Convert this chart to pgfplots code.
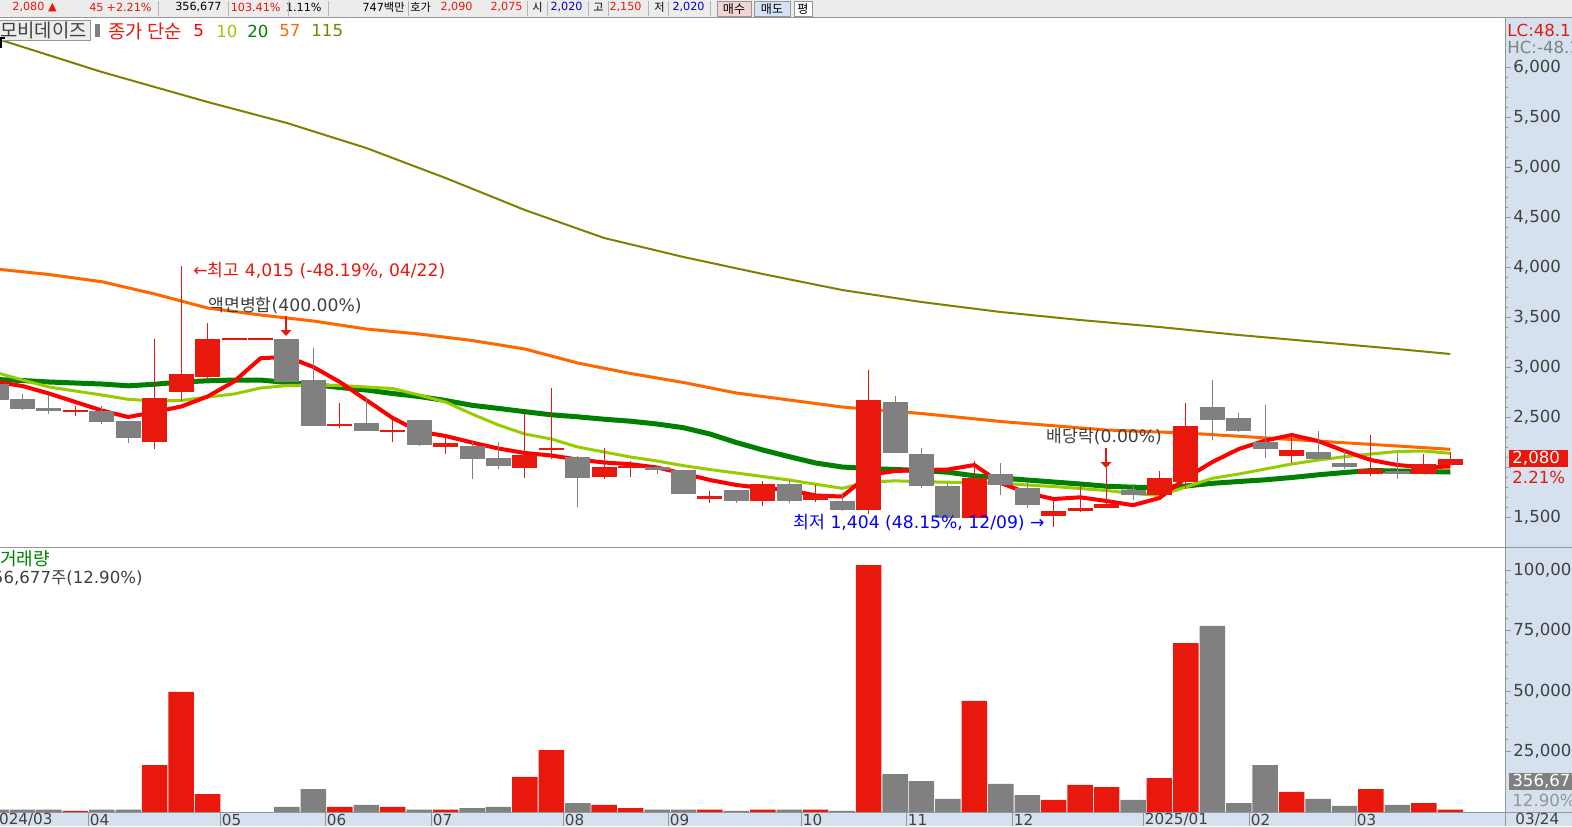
\documentclass[border=0pt]{standalone}
\usepackage{pgfplots}
\pgfplotsset{compat=1.18}
\usepackage{pgfplotstable}
\usepackage{fontspec}
\setmainfont{DejaVu Sans}
\newfontfamily\kr{Noto Sans CJK KR}
\usetikzlibrary{arrows.meta}
\newcommand\fs[1]{\fontsize{#1}{#1}\selectfont}

\definecolor{cup}{RGB}{232,24,12}
\definecolor{cdn}{RGB}{128,128,128}
\definecolor{maA}{RGB}{255,0,0}
\definecolor{maB}{RGB}{153,204,0}
\definecolor{maC}{RGB}{0,128,0}
\definecolor{maD}{RGB}{255,102,0}
\definecolor{maE}{RGB}{128,128,0}
\definecolor{panel}{RGB}{214,225,239}
\definecolor{axgray}{RGB}{150,150,150}
\definecolor{labgray}{RGB}{64,64,64}
\definecolor{barbg}{RGB}{236,236,236}
\definecolor{buyred}{RGB}{244,212,208}
\definecolor{sellblue}{RGB}{212,226,244}
\definecolor{annblue}{RGB}{0,0,255}

% weekly candles, rising weeks: index open high low close volume
\pgfplotstableread{
i o h l c v
3 2555 2613 2513 2570 500
6 2253 3280 2177 2690 19400
7 2753 4015 2657 2930 49600
8 2903 3437 2880 3280 7400
9 3280 3280 3280 3280 0
10 3280 3280 3280 3280 0
13 2417 2640 2390 2427 2100
15 2347 2470 2253 2370 2100
17 2205 2290 2130 2240 1000
20 1993 2543 1890 2117 14500
21 2175 2790 2080 2180 25600
23 1903 2190 1880 1998 2900
24 1995 2060 1903 2003 1650
27 1683 1760 1643 1710 1000
29 1663 1860 1613 1830 1000
31 1670 1820 1653 1720 1000
33 1573 2970 1533 2670 102000
37 1493 2060 1493 1890 45900
40 1513 1670 1404 1560 5000
41 1563 1810 1553 1593 11200
42 1593 1990 1587 1630 10300
44 1720 1960 1700 1890 14000
45 1850 2640 1780 2410 69800
49 2113 2320 2040 2170 8300
52 1933 2320 1910 1980 9500
54 1933 2130 1933 2030 3700
55 2020 2150 2020 2080 1000
}\up
% falling weeks
\pgfplotstableread{
i o h l c v
0 2827 2830 2670 2673 1000
1 2680 2730 2570 2583 1000
2 2590 2720 2530 2565 1000
4 2563 2610 2433 2453 1000
5 2460 2465 2243 2293 1000
11 3280 3280 2850 2850 2100
12 2870 3190 2413 2413 9500
14 2440 2687 2363 2365 2900
16 2470 2470 2210 2220 1000
18 2213 2253 1880 2080 1650
19 2093 2250 1980 2010 2100
22 2100 2110 1603 1893 3700
25 2000 2013 1933 1967 1000
26 1970 1975 1727 1733 1000
28 1770 1770 1643 1663 500
30 1830 1870 1643 1663 1000
32 1660 1737 1563 1573 500
34 2650 2710 2143 2143 15700
35 2130 2190 1790 1810 12800
36 1810 1840 1493 1493 5400
38 1930 2040 1720 1820 11600
39 1790 1850 1590 1620 7000
43 1770 1830 1670 1720 5000
46 2600 2870 2270 2470 76900
47 2490 2540 2350 2360 3700
48 2250 2620 2090 2180 19400
50 2150 2360 2083 2083 5400
51 2040 2160 1980 2003 2500
53 1953 2140 1880 1935 2900
}\down
% moving averages 5, 10, 20
\pgfplotstableread{
i m5 m10 m20
0 2850 2945 2875
1 2810 2870 2865
2 2735 2800 2850
3 2650 2760 2840
4 2565 2720 2830
5 2500 2677 2812
6 2550 2660 2828
7 2605 2665 2850
8 2705 2700 2862
9 2855 2730 2870
10 3087 2790 2870
11 3103 2815 2845
12 3000 2820 2825
13 2850 2815 2795
14 2670 2800 2770
15 2490 2785 2735
16 2355 2720 2705
17 2310 2650 2665
18 2245 2530 2617
19 2185 2420 2586
20 2140 2330 2553
21 2115 2280 2522
22 2075 2200 2502
23 2045 2150 2478
24 2028 2100 2458
25 1995 2060 2430
26 1935 2013 2393
27 1870 1975 2330
28 1820 1940 2245
29 1790 1905 2170
30 1770 1870 2103
31 1715 1828 2040
32 1705 1787 2000
33 1920 1850 1985
34 1960 1862 1975
35 1970 1853 1965
36 1975 1848 1948
37 2020 1843 1912
38 1840 1840 1890
39 1740 1820 1870
40 1680 1805 1850
41 1697 1785 1830
42 1660 1765 1808
43 1618 1735 1798
44 1690 1715 1795
45 1890 1800 1810
46 2050 1887 1837
47 2180 1930 1855
48 2265 1980 1872
49 2320 2030 1895
50 2260 2070 1922
51 2160 2103 1945
52 2070 2130 1965
53 2020 2155 1960
54 1997 2160 1955
55 2005 2137 1950
}\ma
% moving average 57
\pgfplotstableread{
i m
0 3980
2 3925
4 3853
6 3730
8 3590
10 3520
12 3460
14 3380
16 3330
18 3265
20 3180
22 3040
24 2935
26 2845
28 2740
30 2670
32 2600
35 2535
38 2455
42 2370
45 2340
49 2275
53 2210
55 2177
}\maM
% moving average 115
\pgfplotstableread{
i m
0 6285
4 5950
8 5650
11 5440
14 5190
17 4890
20 4570
23 4290
26 4100
29 3930
32 3770
35 3650
38 3550
41 3470
44 3400
47 3320
50 3250
53 3180
55 3130
}\maL

\pgfplotsset{
  wick/.style={draw=none, mark=none, forget plot,
    error bars/.cd, y dir=both, y explicit, error mark=none,
    error bar style={draw=#1, line width=0.5pt}},
  body/.style={draw=none, mark=none, forget plot,
    error bars/.cd, y dir=both, y explicit, error mark=none,
    error bar style={draw=#1, line width=12.5pt}},
  panelaxis/.style={scale only axis, width=752.5pt,
    xmin=0.1475, xmax=57.07,
    axis x line=none, axis y line*=right,
    y axis line style={draw=axgray, line width=0.5pt},
    tick style={draw=axgray, line width=0.5pt},
    tick align=outside, major tick length=3pt, minor tick length=1.6pt,
    minor y tick num=4,
    yticklabel style={font=\fs{8.3}, text=labgray, anchor=west, inner sep=1pt},
    /pgf/number format/assume math mode=true,
    /pgf/number format/1000 sep={,},
    /pgf/number format/fixed},
}

\begin{document}
\begin{tikzpicture}
\useasboundingbox (0,0) rectangle (786pt,-413pt);
\clip (0,0) rectangle (786pt,-413pt);
\begin{scope}[x=0.5pt,y=-0.5pt]
  \fill[white] (0,0) rectangle (1572,826);
  \fill[barbg] (0,0) rectangle (1572,17);
  \fill[panel] (1505,17) rectangle (1572,826);
  \fill[panel] (0,812) rectangle (1572,826);
\end{scope}

% price panel
\begin{axis}[panelaxis, at={(0pt,-9pt)}, anchor=north west,
  height=264.5pt, ymin=1200, ymax=6490,
  ytick={1500,2000,...,6000},
  yticklabels={1{,}500,{},2{,}500,3{,}000,3{,}500,4{,}000,4{,}500,5{,}000,5{,}500,6{,}000}]
\addplot[maE, line width=1pt] table[x=i,y=m]{\maL};
\addplot[maD, line width=1.5pt] table[x=i,y=m]{\maM};
\addplot[maC, line width=2.5pt] table[x=i,y=m20]{\ma};
\addplot[maB, line width=1.5pt] table[x=i,y=m10]{\ma};
\addplot[maA, line width=2pt] table[x=i,y=m5]{\ma};
\addplot[wick=cdn] table[x=i, y expr={(\thisrow{h}+\thisrow{l})/2},
  y error expr={(\thisrow{h}-\thisrow{l})/2}]{\down};
\addplot[body=cdn] table[x=i, y expr={(\thisrow{o}+\thisrow{c})/2},
  y error expr={max(abs(\thisrow{o}-\thisrow{c})/2,12)}]{\down};
\addplot[wick=cup] table[x=i, y expr={(\thisrow{h}+\thisrow{l})/2},
  y error expr={(\thisrow{h}-\thisrow{l})/2}]{\up};
\addplot[body=cup] table[x=i, y expr={(\thisrow{o}+\thisrow{c})/2},
  y error expr={max(abs(\thisrow{o}-\thisrow{c})/2,12)}]{\up};
\end{axis}

% volume panel
\begin{axis}[panelaxis, at={(0pt,-274pt)}, anchor=north west,
  height=132pt, ymin=0, ymax=109085, scaled y ticks=false,
  ytick={25000,50000,75000,100000}]
\addplot[ybar, bar width=12.75pt, bar shift=0pt, fill=cup, draw=none] table[x=i,y=v]{\up};
\addplot[ybar, bar width=12.75pt, bar shift=0pt, fill=cdn, draw=none] table[x=i,y=v]{\down};
\end{axis}

\begin{scope}[x=0.5pt,y=-0.5pt]
  % frame lines
  \draw[axgray, line width=0.5pt] (0,17.5) -- (1572,17.5);
  \draw[axgray, line width=0.5pt] (0,547.5) -- (1572,547.5);
  \draw[axgray, line width=0.5pt] (0,812) -- (1572,812);
  \draw[axgray, line width=0.5pt] (1505.5,17) -- (1505.5,826);
  % toolbar
  \begin{scope}[every node/.style={inner sep=0, font=\fs{5.6}}]
  \node[anchor=west, text=cup] at (12,7) {2,080 ▲};
  \node[anchor=east, text=cup] at (104,7) {45};
  \node[anchor=east, text=cup] at (152,7) {+2.21\%};
  \node[anchor=east, text=black] at (222,7) {356,677};
  \node[anchor=east, text=cup] at (281,7) {103.41\%};
  \node[anchor=east, text=black] at (322,7) {1.11\%};
  \node[anchor=east, text=black] at (405,7) {747{\kr 백만}};
  \node[anchor=west, text=black] at (410,7) {\kr 호가};
  \node[anchor=east, text=cup] at (473,7) {2,090};
  \node[anchor=east, text=cup] at (523,7) {2,075};
  \node[anchor=west, text=black] at (532,7) {\kr 시};
  \node[anchor=east, text=annblue!80!black] at (583,7) {2,020};
  \node[anchor=west, text=black] at (593,7) {\kr 고};
  \node[anchor=east, text=cup] at (642,7) {2,150};
  \node[anchor=west, text=black] at (654,7) {\kr 저};
  \node[anchor=east, text=annblue!80!black] at (705,7) {2,020};
  \end{scope}
  \foreach \sx in {158,228,288,328,408,527,547,588,608,648,668,710} \draw[axgray!70] (\sx,1) -- (\sx,16);
  \filldraw[fill=buyred, draw=axgray] (717,1) rectangle (751,16);
  \filldraw[fill=sellblue, draw=axgray] (754,1) rectangle (790,16);
  \filldraw[fill=white, draw=axgray] (794,1) rectangle (812,16);
  \node[inner sep=0, font=\fs{6}\kr] at (734,8.5) {매수};
  \node[inner sep=0, font=\fs{6}\kr] at (772,8.5) {매도};
  \node[inner sep=0, font=\fs{6}\kr] at (803,8.5) {평};
  % legend line
  \filldraw[fill=barbg, draw=axgray] (-1,20) rectangle (90,40);
  \node[anchor=west, inner sep=0, font=\fs{9.4}\kr, text=labgray] at (0,30.5) {모비데이즈};
  \fill[cdn] (95,24) rectangle (100,37);
  \node[anchor=west, inner sep=0, font=\fs{9.4}\kr, text=cup] at (108,31) {종가 단순};
  \node[anchor=west, inner sep=0, font=\fs{8.3}, text=maA] at (193,31) {5};
  \node[anchor=west, inner sep=0, font=\fs{8.3}, text=maB] at (216,31) {10};
  \node[anchor=west, inner sep=0, font=\fs{8.3}, text=maC] at (247,31) {20};
  \node[anchor=west, inner sep=0, font=\fs{8.3}, text=maD] at (279,31) {57};
  \node[anchor=west, inner sep=0, font=\fs{8.3}, text=maE] at (311,31) {115};
  \draw[black, line width=0.6pt] (1,48) -- (1,38) -- (5,38);
  % annotations
  \node[anchor=west, inner sep=0, font=\fs{8.6}, text=cup] at (193,271) {←{\kr 최고} 4,015 (-48.19\%, 04/22)};
  \node[anchor=west, inner sep=0, font=\fs{8.6}, text=labgray] at (208,305) {{\kr 액면병합}(400.00\%)};
  \draw[cup, line width=0.6pt] (286,316) -- (286,330);
  \fill[cup] (280.5,330) -- (291.5,330) -- (286,336) -- cycle;
  \node[anchor=west, inner sep=0, font=\fs{8.6}, text=annblue] at (793,523) {{\kr 최저} 1,404 (48.15\%, 12/09) →};
  \node[anchor=west, inner sep=0, font=\fs{8.6}, text=labgray] at (1046,437) {{\kr 배당락}(0.00\%)};
  \draw[cup, line width=0.6pt] (1106,448) -- (1106,462);
  \fill[cup] (1100.5,462) -- (1111.5,462) -- (1106,468) -- cycle;
  % right panel labels
  \node[anchor=west, inner sep=0, font=\fs{8.3}, text=cup] at (1507,30) {LC:48.15\%};
  \node[anchor=west, inner sep=0, font=\fs{8.3}, text=cdn] at (1507,47) {HC:-48.19\%};
  \fill[cup] (1509,450) rectangle (1568,467);
  \node[anchor=west, inner sep=0, font=\fs{8.3}, text=white] at (1512,458.5) {2,080};
  \node[anchor=west, inner sep=0, font=\fs{8.3}, text=cup] at (1512,477) {2.21\%};
  \fill[cdn] (1509,773) rectangle (1572,790);
  \node[anchor=west, inner sep=0, font=\fs{8.3}, text=white] at (1512,781.5) {356,677};
  \node[anchor=west, inner sep=0, font=\fs{8.3}, text=axgray] at (1512,800) {12.90\%};
  % volume titles
  \node[anchor=west, inner sep=0, font=\fs{9}\kr, text=maC] at (0,559) {거래량};
  \node[anchor=east, inner sep=0, font=\fs{8.3}, text=labgray] at (143,578) {356,677{\kr 주}(12.90\%)};
  % date strip
  \foreach \dx/\dl in {88/04,220/05,325/06,431/07,563/08,668/09,801/10,906/11,1012/12,1143/2025\slash 01,1249/02,1355/03}{
    \draw[axgray] (\dx,812) -- (\dx,826);
    \node[anchor=west, inner sep=0, font=\fs{7.6}, text=labgray] at (\dx+1.5,819.5) {\dl};
  }
  \node[anchor=east, inner sep=0, font=\fs{7.6}, text=labgray] at (53,819.5) {2024/03};
  \node[anchor=west, inner sep=0, font=\fs{7.6}, text=labgray] at (1515,819.5) {03/24};
\end{scope}
\end{tikzpicture}
\end{document}
